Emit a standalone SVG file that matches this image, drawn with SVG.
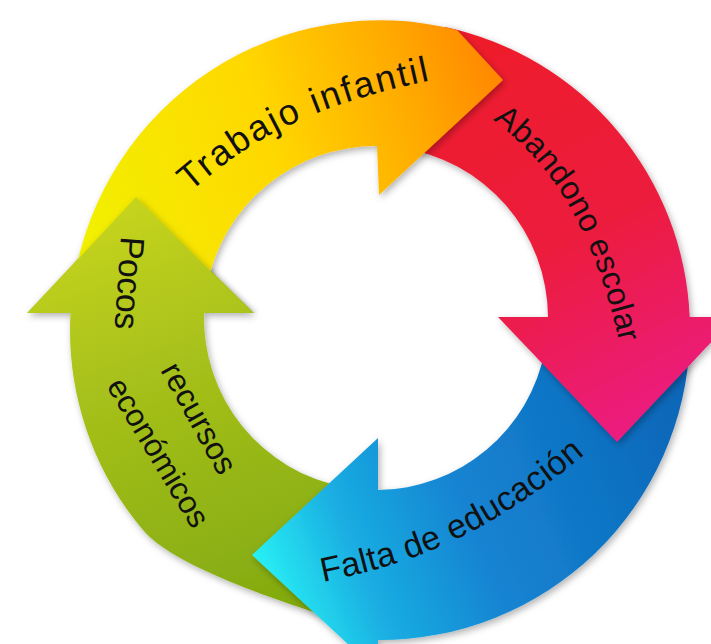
<svg xmlns="http://www.w3.org/2000/svg" width="711" height="644" viewBox="0 0 711 644">
  <style>
    .lbl { font-family: "Liberation Sans", Arial, sans-serif; fill: #111111; }
  </style>
  <defs>
    <linearGradient id="gYellow" gradientUnits="userSpaceOnUse" x1="90" y1="220" x2="500" y2="80">
      <stop offset="0" stop-color="#f2ef00"/>
      <stop offset="0.45" stop-color="#ffd800"/>
      <stop offset="0.8" stop-color="#ffa800"/>
      <stop offset="1" stop-color="#ff8800"/>
    </linearGradient>
    <linearGradient id="gRed" gradientUnits="userSpaceOnUse" x1="470" y1="40" x2="680" y2="440">
      <stop offset="0" stop-color="#ee1c2a"/>
      <stop offset="0.5" stop-color="#ec1b3e"/>
      <stop offset="1" stop-color="#ec1a8a"/>
    </linearGradient>
    <linearGradient id="gBlue" gradientUnits="userSpaceOnUse" x1="690" y1="380" x2="255" y2="560">
      <stop offset="0" stop-color="#0a64b6"/>
      <stop offset="0.55" stop-color="#1584d2"/>
      <stop offset="0.8" stop-color="#1aaee2"/>
      <stop offset="1" stop-color="#28f0f4"/>
    </linearGradient>
    <linearGradient id="gGreen" gradientUnits="userSpaceOnUse" x1="130" y1="200" x2="280" y2="610">
      <stop offset="0" stop-color="#c6d41c"/>
      <stop offset="0.4" stop-color="#a6c01a"/>
      <stop offset="1" stop-color="#82aa10"/>
    </linearGradient>
    <filter id="shadow" x="-20%" y="-20%" width="140%" height="140%">
      <feDropShadow dx="2" dy="3" stdDeviation="3.5" flood-color="#000000" flood-opacity="0.3"/>
    </filter>
    <clipPath id="clipTop">
      <rect x="0" y="0" width="711" height="313"/>
    </clipPath>
    <path id="tp-trabajo" d="M 190,192 C 240,150 290,110 432,80"/>
    <path id="tp-abandono" d="M 493,120 C 545,160 590,215 620,345"/>
    <path id="tp-falta" d="M 323,582 C 400,566 480,543 590,450"/>
  </defs>

  <rect x="0" y="0" width="711" height="644" fill="#ffffff"/>

  <g id="connectors">
    <path id="arrow-green" filter="url(#shadow)" fill="url(#gGreen)"
          d="M 345,622 C 288,604 175,568 143,530 A 310 310 0 0 1 70.5,313 L 27,313 L 136,197 L 254,313 L 204.1,313 A 172 172 0 0 0 345,487.2 Z"/>
    <path id="arrow-blue" filter="url(#shadow)" fill="url(#gBlue)"
          d="M 689.8,340 A 310 310 0 0 1 378,640 L 378,672 L 252,555 L 378,438 L 378,490 A 172 172 0 0 0 545,350 Z"/>
    <path id="arrow-red" filter="url(#shadow)" fill="url(#gRed)"
          d="M 445,26.9 A 310 310 0 0 1 689.7,317 L 735,317 L 617,442 L 498,317 L 548,317 A 172 172 0 0 0 400,147.7 Z"/>
    <path id="arrow-yellow" filter="url(#shadow)" fill="url(#gYellow)"
          d="M 74.1,280 A 310 310 0 0 1 457,30 L 503,80 L 379,195 L 377,146 A 172 172 0 0 0 207.2,285 Z"/>
    <g clip-path="url(#clipTop)">
      <path id="arrow-green-head" filter="url(#shadow)" fill="url(#gGreen)"
            d="M 27,314 L 136,197 L 254,314 Z"/>
    </g>
  </g>

  <g id="node-trabajo">
    <text class="lbl" font-size="36"><textPath href="#tp-trabajo" textLength="268">Trabajo infantil</textPath></text>
  </g>
  <g id="node-abandono">
    <text class="lbl" font-size="32"><textPath href="#tp-abandono" textLength="262">Abandono escolar</textPath></text>
  </g>
  <g id="node-falta">
    <text class="lbl" font-size="34"><textPath href="#tp-falta" textLength="295">Falta de educación</textPath></text>
  </g>
  <g id="node-pocos">
    <text class="lbl" font-size="34" transform="translate(121,236) rotate(94)" textLength="93">Pocos</text>
    <text class="lbl" font-size="32" transform="translate(160,370) rotate(61)" textLength="122">recursos</text>
    <text class="lbl" font-size="31.5" transform="translate(106,386) rotate(59)" textLength="168">económicos</text>
  </g>
</svg>
